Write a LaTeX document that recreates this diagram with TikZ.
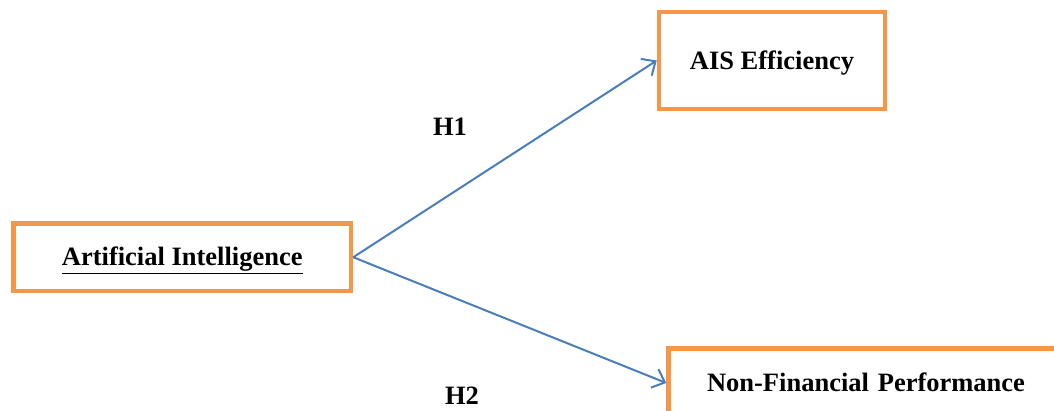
\documentclass[tikz,border=0pt]{standalone}
\usepackage{fontspec}
\setmainfont{Liberation Serif}
\usetikzlibrary{arrows.meta}
\definecolor{boxorange}{HTML}{F79646}
\definecolor{arrowblue}{HTML}{4A7EBB}
\begin{document}
\begin{tikzpicture}[x=1pt,y=-1pt,
  varbox/.style={draw=boxorange, line width=4.5pt, fill=white, rectangle, inner sep=0pt,
    text height=20pt, text depth=2.6pt,
    font=\fontsize{26.5}{30}\selectfont\bfseries},
  link/.style={draw=arrowblue, line width=2pt, -{Straight Barb[length=11pt,width=20pt,line width=2pt]}},
  hyp/.style={font=\fontsize{26.5}{30}\selectfont\bfseries, inner sep=0pt}]
\useasboundingbox (0,0) rectangle (1054,411);
\clip (0,0) rectangle (1054,411);
\fill[white] (0,0) rectangle (1054,411);
\node[varbox, minimum width=337.5pt, minimum height=67.5pt] (ai) at (182.25,257.25) {\underline{Artificial Intelligence}};
\node[varbox, minimum width=226pt, minimum height=97pt] (ais) at (772,60.5) {AIS Efficiency};
\node[varbox, minimum width=395pt, minimum height=69pt, text width=395pt, align=center] (nfp) at (866,383) {Non-Financial Performance};
\draw[link] (ai.east) -- (ais.west);
\draw[link] (ai.east) -- (nfp.west);
\node[hyp] (h1) at (450,127) {H1};
\node[hyp] (h2) at (462,396) {H2};
\end{tikzpicture}
\end{document}
